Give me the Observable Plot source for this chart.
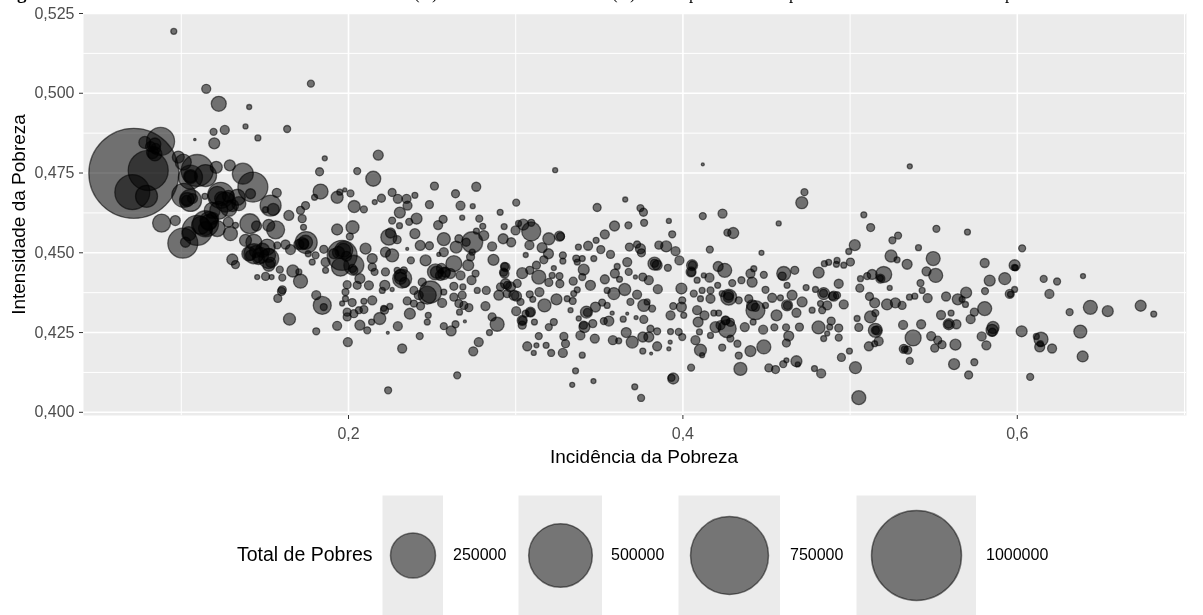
<!DOCTYPE html>
<html><head><meta charset="utf-8">
<script src="https://cdn.jsdelivr.net/npm/d3@7"></script>
<script src="https://cdn.jsdelivr.net/npm/@observablehq/plot@0.6"></script>
<style>
html,body{margin:0;padding:0;background:#fff}
#page{position:relative;width:1203px;height:615px;overflow:hidden;font-family:"Liberation Sans",Arial,sans-serif;filter:blur(.4px)}
#page svg{display:block;position:absolute;background:transparent}
.t{position:absolute;white-space:nowrap;line-height:1}
.title{font-family:"Liberation Serif",serif;font-size:17px;color:#000;top:-15px}
</style></head><body><div id="page"></div>
<script>
const incidencia=[
.0955,.1149,.1224,.1406,.1775,.1081,.1193,.1260,.1384,.1458,.1633,.1197,.0716,.0876,.0782,.0842,.0842,.0802,.0707,.0792,
.0982,.1012,.1095,.1145,.1209,.1055,.1055,.1290,.1368,.1428,.1414,.1571,.1534,.1550,.1504,.1015,.1055,.1035,.1141,.1235,
.1215,.1265,.1335,.1344,.1224,.1284,.0882,.0964,.1009,.1025,.1095,.1145,.1165,.1115,.1045,.1185,.1215,.1281,.1294,.1324,
.1410,.1450,.1523,.1564,.1643,.1713,.1743,.1723,.1731,.1384,.1434,.1434,.1514,.1523,.1523,.1474,.1404,.1574,.1623,.1653,
.1703,.1743,.1305,.1324,.1589,.1604,.1667,.1703,.1713,.1504,.1454,.1540,.1604,
.1858,.1827,.2052,.2178,.2148,.1833,.1797,.1932,.1948,.1978,.2012,.2034,.2092,.2157,.2197,.2261,.2295,.2347,.2397,.2353,
.2307,.2261,.2363,.2407,.2514,.2640,.2764,.2670,.2484,.2743,.3003,.2907,.2680,.2782,.2566,.2536,.2305,.2931,.2803,.2999,
.1932,.2024,.2008,.2241,.2251,.2291,.2397,.2570,.2740,.2809,.2765,.2660,.2644,.2704,.2925,.2973,.2859,.2867,.2429,.2484,
.2351,.2570,.2540,.1747,.1733,.1759,.1803,.1783,.1852,.1962,.1972,.1952,.2032,.2032,.1912,.1863,.1863,.2102,.2142,.2142,
.2156,.2221,.2261,.2221,.2373,.2461,.2520,.2570,.2630,.2610,.2550,.2716,.2730,.2740,.2760,.2736,.2670,.2321,.2311,.2291,
.2331,.1992,.2068,.2052,.2122,.2217,.2441,.2491,.2420,.2391,.2261,.2630,.2570,.2684,.2630,.2680,.1807,.1843,.1852,.1982,
.1982,.2022,.1962,.2092,.2142,.2351,.2391,.2431,.2560,.2660,.2690,.2819,.2770,.2824,.2899,.2909,.2939,.2969,.2939,.2933,
.3017,.2989,.3009,.2247,.2211,
.1647,.1807,.1932,.1996,.1577,.1599,.2237,.2650,.2321,.2426,.2235,.2295,.2187,.2215,.2138,.2112,.2068,.1992,.1992,.2032,
.2092,.2062,.2202,.2367,.2471,.2477,.2471,.2570,.2640,.2614,.2696,.2664,.2720,.2779,.2746,
.3236,.3487,.3655,.3746,.3764,.3768,.3916,.4119,.4119,.4237,.4711,.4727,.4573,.4301,.4266,.3936,.3674,.3591,.3093,.3045,
.3093,.3082,.3533,.3481,.3433,.3375,.3198,.3262,.3158,.3196,.3509,.3567,.3467,.3060,.3680,.3746,.3726,.3752,.3856,.3900,
.3956,.3979,.4161,.4470,.3168,.3282,.3282,.3398,.3362,.3407,.3368,.3039,.3124,.3084,.3138,.3228,.3198,.3262,.3264,.3218,
.3344,.3398,.3447,.3667,.3607,.3593,.3676,.3533,.3621,.3716,.3760,.3796,.3830,.3846,.3910,.4055,.4049,.4085,.4211,.4250,
.4159,.4125,.4295,.4350,.4404,.4424,.4414,.4484,.4603,.4594,.4669,.4812,.4846,.4872,.4922,.4918,.2949,.3005,.3029,.3084,
.3142,.3102,.3172,.3244,.3308,.3347,.3368,.3341,.3547,.3587,.3652,.3726,.3686,.3766,.3786,.3816,.3850,.3991,.3996,.3991,
.3942,.3926,.4005,.4065,.4105,.4165,.4115,.4165,.4208,.4274,.4274,.4235,.4334,.4394,.4434,.4414,.4494,.4534,.4494,.4583,
.4623,.4653,.4713,.4679,.4560,.4623,.4737,.4793,.4842,.4902,.4823,.4863,.4773,.4833,.3003,.2859,.2889,.2843,.3088,.3059,
.3039,.3039,.3112,.3228,.3198,.3138,.3069,.3124,.3108,.3182,.3212,.3288,.3298,.3282,.3328,.3423,.3477,.3517,.3547,.3377,
.3411,.3387,.3461,.3473,.3527,.3557,.3577,.3643,.3667,.3398,.3358,.3338,.3465,.3712,.3750,.3942,.3932,.4049,.3581,.3616,
.3661,.3697,.3760,.3796,.3846,.3806,.3846,.3760,.3810,.3916,.3924,.3926,.3975,.3996,.3720,.3766,.4075,.4099,.4165,.4105,
.4115,.4235,.4284,.4326,.4334,.4404,.4484,.4344,.4091,.4129,.4085,.4185,.4214,.4265,.4255,.4195,.4225,.4370,.4420,.4480,
.4547,.4617,.4633,.4619,.4697,.4811,.4887,.4878,.4842,.4863,.4932,.4514,.4554,.4600,.4619,.4679,.4687,.4787,.4827,
.5357,.5082,.5123,.5287,.5253,.5516,.5702,.5028,.4992,.5409,.5245,.5281,.5497,.5341,.6029,.5805,.5984,.5989,.4962,.5002,
.5201,.5181,.5132,.5102,.5062,.5457,.5512,.5835,.5925,.6158,.6238,.6393,.4932,.5058,.5237,.5421,.5431,.4922,.4962,.5116,
.5147,.5221,.5271,.5311,.5355,.5387,.5464,.5574,.5644,.5694,.5690,.5670,.5807,.5984,.5955,.6192,.6437,.6541,.6738,.6816,
.6313,.5805,.5743,.5721,.5604,.5544,.5122,.5151,.5042,.5317,.5425,.5590,.5636,.5849,.5855,.6026,.6377,.5052,.5151,.5161,
.4932,.5377,.5485,.5524,.5550,.5506,.5630,.5787,.6142,.6114,.6134,.6138,.6208,.5815,.6391,.5112,.5171,.5147,.5321,.5345,
.4996,.4948,.5032,.5357,.5622,.5743,.5709,.6077,.5052,
.1241,.1282,.1306,.1163,.1145,.1187,.1444,.1486,.1522,.1462,.1414,.1534,.0816,.0846,.0828,.1055,.1031,.1067,.1970,.1940,
.1988,.2024,.1725,.2311,.2335,.2526,.2580,.2556,.2933,.2927,.2951,.3041,.3088,.3429,.3405,.3268,.3830,.4057,.4051,.4272,
.4255,.4284,.4434,.4625,.4841,.4895,.5151,.5851,.5588,.5959,.5983,.5325,.5181];
const intensidade=[
.5194,.5014,.4967,.4957,.5030,.4855,.4879,.4885,.4896,.4860,.4888,.4843,.4749,.4849,.4846,.4841,.4810,.4758,.4690,.4677,
.4800,.4784,.4758,.4742,.4768,.4737,.4739,.4774,.4748,.4706,.4685,.4688,.4648,.4636,.4635,.4680,.4664,.4667,.4677,.4680,
.4680,.4659,.4674,.4654,.4633,.4639,.4593,.4601,.4530,.4533,.4570,.4591,.4601,.4586,.4560,.4633,.4576,.4596,.4560,.4586,
.4591,.4584,.4586,.4572,.4617,.4633,.4648,.4607,.4580,.4539,.4533,.4497,.4518,.4482,.4461,.4492,.4497,.4523,.4526,.4510,
.4526,.4533,.4479,.4463,.4447,.4422,.4443,.4440,.4411,.4426,.4424,.4424,.4384,
.4796,.4754,.4756,.4806,.4732,.4692,.4674,.4674,.4690,.4697,.4686,.4645,.4636,.4659,.4671,.4689,.4669,.4669,.4680,.4648,
.4626,.4601,.4597,.4607,.4709,.4685,.4707,.4648,.4651,.4646,.4657,.4627,.4610,.4607,.4605,.4587,.4585,.4582,.4583,.4570,
.4573,.4580,.4551,.4549,.4562,.4541,.4560,.4543,.4533,.4554,.4568,.4544,.4518,.4533,.4544,.4533,.4520,.4478,.4523,.4522,
.4512,.4502,.4495,.4532,.4528,.4497,.4492,.4471,.4511,.4492,.4508,.4455,.4461,.4445,.4497,.4471,.4445,.4513,.4482,.4455,
.4440,.4502,.4492,.4440,.4476,.4476,.4440,.4435,.4466,.4435,.4429,.4461,.4487,.4502,.4435,.4414,.4429,.4419,.4429,.4445,
.4445,.4400,.4419,.4398,.4398,.4398,.4408,.4377,.4367,.4382,.4385,.4395,.4377,.4393,.4361,.4367,.4367,.4335,.4330,.4377,
.4356,.4344,.4341,.4348,.4351,.4349,.4341,.4333,.4343,.4341,.4335,.4333,.4382,.4382,.4367,.4393,.4403,.4393,.4455,.4435,
.4592,.4367,.4404,.4332,.4326,
.4292,.4254,.4271,.4220,.4357,.4379,.4069,.4116,.4200,.4239,.4249,.4270,.4294,.4320,.4283,.4257,.4273,.4299,.4314,.4309,
.4322,.4320,.4382,.4309,.4367,.4304,.4283,.4270,.4276,.4255,.4285,.4314,.4328,.4220,.4191,
.4759,.4642,.4667,.4640,.4627,.4594,.4600,.4777,.4615,.4623,.4657,.4690,.4592,.4562,.4563,.4558,.4586,.4584,.4567,.4588,
.4594,.4524,.4558,.4539,.4522,.4518,.4544,.4552,.4516,.4497,.4510,.4495,.4482,.4493,.4518,.4513,.4526,.4500,.4524,.4520,
.4505,.4476,.4510,.4500,.4478,.4492,.4474,.4482,.4482,.4447,.4471,.4436,.4461,.4445,.4424,.4452,.4407,.4427,.4403,.4429,
.4411,.4424,.4398,.4471,.4457,.4435,.4440,.4417,.4417,.4424,.4424,.4414,.4466,.4461,.4453,.4461,.4440,.4414,.4457,.4445,
.4422,.4429,.4405,.4414,.4435,.4450,.4408,.4431,.4435,.4427,.4445,.4438,.4466,.4470,.4476,.4464,.4372,.4364,.4346,.4370,
.4377,.4354,.4335,.4354,.4356,.4372,.4384,.4349,.4382,.4372,.4385,.4369,.4346,.4335,.4346,.4325,.4386,.4388,.4351,.4330,
.4333,.4304,.4304,.4372,.4356,.4356,.4382,.4382,.4398,.4361,.4367,.4372,.4351,.4356,.4320,.4335,.4384,.4359,.4335,.4359,
.4335,.4367,.4346,.4312,.4304,.4398,.4391,.4385,.4372,.4364,.4341,.4335,.4320,.4320,.4317,.4299,.4276,.4250,.4314,.4309,
.4288,.4273,.4283,.4283,.4267,.4239,.4207,.4210,.4186,.4210,.4186,.4238,.4215,.4186,.4320,.4314,.4330,.4344,.4335,.4294,
.4267,.4241,.4278,.4231,.4286,.4286,.4311,.4292,.4309,.4179,.4130,.4086,.4098,.4080,.4045,.4106,.4108,.4140,.4226,.4224,
.4250,.4220,.4236,.4236,.4254,.4262,.4207,.4192,.4184,.4199,.4220,.4253,.4252,.4236,.4297,.4291,.4226,.4252,.4241,.4195,
.4179,.4203,.4231,.4215,.4178,.4192,.4205,.4136,.4283,.4304,.4320,.4311,.4311,.4262,.4288,.4267,.4273,.4267,.4283,.4259,
.4266,.4266,.4239,.4217,.4267,.4266,.4286,.4267,.4231,.4247,.4234,.4139,.4134,.4151,.4163,.4160,.4150,.4137,.4122,
.4771,.4619,.4579,.4554,.4539,.4575,.4565,.4524,.4504,.4516,.4490,.4478,.4482,.4464,.4514,.4468,.4461,.4453,.4461,.4471,
.4432,.4419,.4432,.4427,.4419,.4442,.4429,.4413,.4419,.4418,.4410,.4427,.4403,.4389,.4390,.4405,.4382,.4367,.4338,.4363,
.4343,.4338,.4343,.4335,.4361,.4364,.4358,.4363,.4354,.4375,.4338,.4354,.4380,.4385,.4371,.4371,.4329,.4317,.4334,.4308,
.4314,.4325,.4314,.4292,.4311,.4305,.4299,.4311,.4294,.4274,.4276,.4276,.4276,.4257,.4266,.4254,.4253,.4266,.4257,.4257,
.4264,.4233,.4239,.4226,.4212,.4201,.4212,.4238,.4229,.4238,.4205,.4215,.4200,.4210,.4175,.4207,.4223,.4215,.4199,.4195,
.4192,.4172,.4140,.4161,.4151,.4157,.4117,.4111,.4046,
.4670,.4677,.4648,.4595,.4576,.4608,.4504,.4508,.4492,.4482,.4492,.4470,.4833,.4827,.4814,.4739,.4664,.4670,.4508,.4501,
.4489,.4451,.4529,.4420,.4407,.4439,.4439,.4451,.4457,.4439,.4398,.4288,.4313,.4313,.4273,.4551,.4467,.4461,.4439,.4360,
.4288,.4282,.4329,.4335,.4373,.4364,.4257,.4251,.4276,.4370,.4454,.4198,.4420];
const milharesDePobres=[
4.4,10,27.8,3.1,6,.7,6,10,3.1,4.4,6,14.9,1000,96.8,17.8,17.8,24.2,198,151,59.8,
17.8,31.6,126,59.8,17.8,71.1,24.2,14.9,54.5,111,12.3,10,54.5,17.8,4.4,71.1,59.8,24.2,4.4,83.5,
40,49.4,31.6,24.2,40,31.6,40,12.3,111,12.3,111,83.5,40,40,24.2,31.6,31.6,12.3,24.2,4.4,
49.4,12.3,17.8,40,12.3,7.9,7.9,7.9,4.4,17.8,31.6,49.4,31.6,49.4,17.8,31.6,24.2,6,10,12.3,
12.3,24.2,14.9,7.9,6,6,17.8,4.4,24.2,7.9,3.1,3.1,7.9,
3.1,7.9,6,12.3,27.8,27.8,4.4,17.8,4.4,2,6,17.8,6,3.1,7.9,7.9,10,10,4.4,10,
14.9,6,6,14.9,7.9,7.9,10,10,7.9,3.1,6,4.4,3.1,6,7.9,10,4.4,4.4,4.4,10,
14.9,20.9,6,31.6,12.3,7.9,12.3,20.9,54.5,12.3,4.4,7.9,17.8,7.9,12.3,10,10,14.9,12.3,7.9,
1.1,10,2,59.8,12.3,4.4,6,4.4,7.9,111,40,40,49.4,7.9,12.3,10,4.4,14.9,12.3,7.9,
6,12.3,20.9,7.9,6,14.9,31.6,17.8,31.6,12.3,12.3,14.9,7.9,4.4,6,10,10,44.6,17.8,4.4,
6,7.9,12.3,7.9,10,12.3,7.9,59.8,10,7.9,2,7.9,4.4,4.4,7.9,7.9,10,40,6,6,
4.4,7.9,3.1,4.4,10,7.9,6,7.9,10,7.9,7.9,10,4.4,7.9,12.3,7.9,12.3,12.3,10,10,
4.4,12.3,7.9,4.4,4.4,
17.8,6,10,10,7.9,7.9,6,6,10,6,1.1,10,17.8,7.9,4.4,6,12.3,7.9,7.9,7.9,
7.9,6,4.4,14.9,40,4.4,4.4,6,6,12.3,1.1,4.4,7.9,10,10,
3.1,7.9,3.1,6,7.9,6,3.1,1.1,6,10,17.8,6,3.1,14.9,6,6,6,12.3,44.6,14.9,
6,10,10,4.4,10,4.4,17.8,12.3,12.3,12.3,7.9,7.9,4.4,3.1,7.9,12.3,6,7.9,7.9,14.9,
10,10,6,3.1,7.9,6,4.4,4.4,6,14.9,4.4,14.9,7.9,7.9,24.2,3.1,7.9,6,7.9,4.4,
7.9,6,12.3,10,4.4,10,6,10,4.4,2,7.9,10,20.9,12.3,6,14.9,12.3,4.4,12.3,24.2,
10,3.1,6,6,10,4.4,12.3,6,24.2,7.9,7.9,14.9,4.4,4.4,4.4,4.4,7.9,12.3,6,6,
10,4.4,20.9,14.9,4.4,4.4,4.4,6,4.4,17.8,17.8,10,6,17.8,4.4,6,10,14.9,6,12.3,
6,10,4.4,6,4.4,10,4.4,6,4.4,31.6,12.3,4.4,6,7.9,44.6,14.9,6,10,4.4,4.4,
14.9,12.3,12.3,10,14.9,4.4,4.4,4.4,17.8,12.3,4.4,10,4.4,6,10,7.9,24.2,4.4,12.3,6,
12.3,7.9,4.4,6,6,6,10,3.1,3.1,4.4,6,7.9,7.9,10,3.1,17.8,12.3,6,4.4,3.1,
14.9,10,7.9,10,6,12.3,2,4.4,1.1,4.4,4.4,3.1,3.1,4.4,6,14.9,6,6,10,4.4,
12.3,17.8,12.3,12.3,6,6,10,4.4,1.1,2,2,4.4,6,6,2,7.9,10,4.4,4.4,17.8,
3.1,6,6,6,6,14.9,24.2,20.9,12.3,10,10,4.4,4.4,40,10,14.9,10,10,4.4,10,
6,6,12.3,7.9,7.9,20.9,7.9,4.4,4.4,3.1,6,7.9,7.9,6,3.1,14.9,3.1,4.4,10,
3.1,4.4,7.9,6,6,6,4.4,14.9,4.4,4.4,17.8,4.4,24.2,12.3,6,10,14.9,4.4,4.4,7.9,
31.6,10,12.3,6,4.4,10,24.2,14.9,17.8,6,6,3.1,10,7.9,3.1,6,4.4,6,10,7.9,
12.3,14.9,12.3,7.9,4.4,4.4,10,10,14.9,14.9,4.4,4.4,6,4.4,10,10,24.2,14.9,14.9,4.4,
6,24.2,7.9,10,4.4,10,17.8,6,4.4,10,10,14.9,10,17.8,17.8,14.9,20.9,7.9,24.2,10,
7.9,31.6,10,7.9,7.9,7.9,14.9,10,24.2,4.4,12.3,4.4,10,10,14.9,10,10,4.4,10,7.9,
4.4,7.9,17.8,6,14.9,6,7.9,6,24.2,
24.2,17.8,17.8,31.6,24.2,17.8,17.8,24.2,24.2,17.8,12.3,12.3,12.3,12.3,17.8,17.8,12.3,12.3,24.2,17.8,
12.3,7.9,17.8,17.8,12.3,17.8,12.3,12.3,7.9,7.9,7.9,7.9,7.9,7.9,7.9,7.9,7.9,7.9,7.9,12.3,
7.9,7.9,7.9,7.9,7.9,7.9,7.9,7.9,7.9,4.4,4.4,4.4,4.4];
const valoresLegenda=[250000,500000,750000,1000000];
const ticksX=[.2,.4,.6], menoresX=[.1,.3,.5,.7];
const ticksY=[.4,.425,.45,.475,.5,.525], menoresY=[.4125,.4375,.4625,.4875,.5125];
const titulo=[["Figura",0,"bold"],["(H)",414],["(A)",612],["p",689],["p",789],["p",1005]];

if(incidencia.length!==intensidade.length||incidencia.length!==milharesDePobres.length)
  throw new Error("len "+[incidencia.length,intensidade.length,milharesDePobres.length]);
const dados=incidencia.map((x,i)=>({x,y:intensidade[i],z:milharesDePobres[i]*1000}));
const virg=f=>v=>d3.format(f)(v).replace(".",",");
const rScale={type:"sqrt",domain:[0,1000000],range:[0,45]};
const page=document.getElementById("page");
const fonte='"Liberation Sans",Arial,sans-serif';
const chart=Plot.plot({width:1203,height:470,marginTop:13,marginLeft:83,marginRight:17,marginBottom:55,
  style:{fontFamily:fonte,background:"transparent"},
  x:{domain:[.0415,.7012],axis:null},y:{domain:[.399,.525],axis:null},r:rScale,
  marks:[
   Plot.frame({fill:"#ebebeb",stroke:null}),
   Plot.ruleX(menoresX,{stroke:"#fff",strokeWidth:1}),
   Plot.ruleY(menoresY,{stroke:"#fff",strokeWidth:1}),
   Plot.ruleX(ticksX,{stroke:"#fff",strokeWidth:1.6}),
   Plot.ruleY(ticksY,{stroke:"#fff",strokeWidth:1.6}),
   Plot.axisX({ticks:ticksX,tickFormat:virg(".1f"),tickSize:4,tickPadding:8,fontSize:16,color:"#4d4d4d",stroke:"#333",label:null,anchor:"bottom"}),
   Plot.axisY({ticks:ticksY,tickFormat:virg(".3f"),tickSize:4,tickPadding:5,fontSize:16,color:"#4d4d4d",stroke:"#333",label:null,anchor:"left"}),
   Plot.text(["Incidência da Pobreza"],{frameAnchor:"bottom",dy:47,dx:9,fontSize:19,fill:"#000"}),
   Plot.text(["Intensidade da Pobreza"],{frameAnchor:"left",textAnchor:"middle",dx:-65,rotate:-90,fontSize:19,fill:"#000"}),
   Plot.dot(dados,{x:"x",y:"y",r:"z",fill:"#000",fillOpacity:.52,stroke:"#000",strokeOpacity:.55,strokeWidth:1.3})
  ]});
page.appendChild(chart);

const caixas=[[382,61],[518,84],[678,102],[856,120]];
const legX=[453,611,790,986];
valoresLegenda.forEach((v,i)=>{
  const k=Plot.plot({width:caixas[i][1],height:120,margin:0,r:rScale,x:{axis:null},y:{axis:null},
    style:{background:"transparent"},
    marks:[Plot.frame({fill:"#ebebeb",stroke:null}),
      Plot.dot([v],{r:d=>d,frameAnchor:"middle",fill:"#000",fillOpacity:.5,stroke:"#000",strokeOpacity:.5})]});
  k.style.left=caixas[i][0]+"px";k.style.top="495px";
  page.appendChild(k);
  const s=document.createElement("div");s.className="t";s.textContent=String(v);
  s.style.cssText="left:"+legX[i]+"px;top:547px;font-size:16px;color:#000";
  page.appendChild(s);
});
const lt=document.createElement("div");lt.className="t";lt.textContent="Total de Pobres";
lt.style.cssText="left:237px;top:545px;font-size:19.5px;color:#000";page.appendChild(lt);
titulo.forEach(([t,x,w])=>{const s=document.createElement("div");s.className="t title";s.textContent=t;
  s.style.left=x+"px";if(w){s.style.fontWeight=w;s.style.fontSize="19px";s.style.top="-17px";}page.appendChild(s);});
</script></body></html>
